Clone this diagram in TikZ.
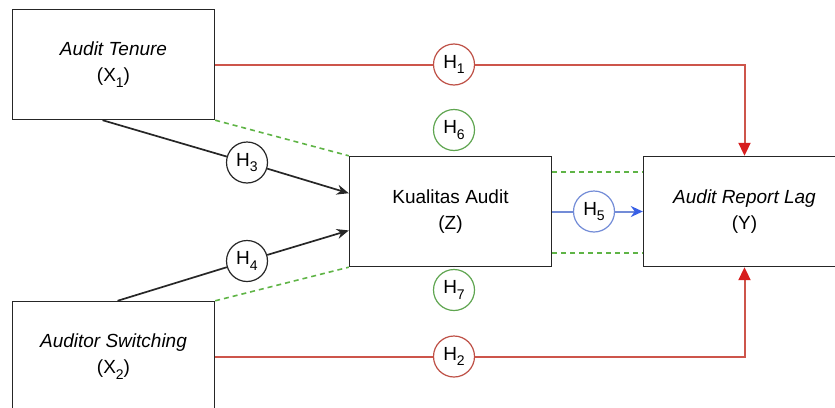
\documentclass[tikz,border=0pt]{standalone}
\usepackage{fontspec}
\setmainfont{Liberation Sans}
\usetikzlibrary{arrows.meta,calc}
\definecolor{redln}{RGB}{205,85,75}
\definecolor{redcirc}{RGB}{190,80,70}
\definecolor{redhd}{RGB}{215,30,30}
\definecolor{grn}{RGB}{95,180,70}
\definecolor{grncirc}{RGB}{95,165,80}
\definecolor{blu}{RGB}{115,140,215}
\definecolor{bluhd}{RGB}{55,95,230}
\newcommand{\sbs}[1]{\raisebox{-0.28em}{\fontsize{14}{14}\selectfont #1}}
\tikzset{
  box/.style={draw=black!85,line width=1.4pt,minimum width=202pt,minimum height=110pt,align=center,inner sep=0pt,
    font=\fontsize{19}{26}\selectfont},
  hyp/.style={circle,draw,line width=1.2pt,fill=white,minimum size=41pt,inner sep=0pt,font=\fontsize{19}{20}\selectfont},
  conn/.style={line width=1.7pt},
  hconn/.style={line width=2pt},
  gdash/.style={draw=grn,line width=1.6pt,dash pattern=on 5pt off 4pt},
}
\begin{document}
\begin{tikzpicture}[x=1pt,y=-1pt]
\useasboundingbox (0,0) rectangle (835,407);
\node[box] (x1) at (113.5,64.5) {\textit{Audit Tenure}\\(X\sbs{1})};
\node[box] (x2) at (113.5,356.5) {\textit{Auditor Switching}\\(X\sbs{2})};
\node[box] (z) at (450.5,211.5) {Kualitas Audit\\(Z)};
\node[box] (y) at (744.5,211.5) {\textit{Audit Report Lag}\\(Y)};

\node[hyp,draw=redcirc] (h1) at (454,64.5) {H\sbs{1}};
\node[hyp,draw=redcirc] (h2) at (454,356.5) {H\sbs{2}};
\node[hyp,draw=black!85] (h3) at (247,162.5) {H\sbs{3}};
\node[hyp,draw=black!85] (h4) at (247,261) {H\sbs{4}};
\node[hyp,draw=blu] (h5) at (594,211.5) {H\sbs{5}};
\node[hyp,draw=grncirc] (h6) at (454,130) {H\sbs{6}};
\node[hyp,draw=grncirc] (h7) at (454,290) {H\sbs{7}};

% red paths
\draw[hconn,redln] (x1.east) -- (h1);
\draw[hconn,redln,-{Triangle[length=13pt,width=12pt,fill=redhd,color=redhd]}] (h1) -| (y.north);
\draw[hconn,redln] (x2.east) -- (h2);
\draw[hconn,redln,-{Triangle[length=13pt,width=12pt,fill=redhd,color=redhd]}] (h2) -| (y.south);

% black paths
\coordinate (x1b) at ($(x1.south west)!0.446!(x1.south east)$);
\coordinate (z3) at ($(z.north west)!0.336!(z.south west)$);
\draw[conn,black!85] (x1b) -- (h3);
\draw[conn,black!85,-{Stealth[length=12pt,width=10pt]}] (h3) -- (z3);
\coordinate (x2t) at ($(x2.north west)!0.52!(x2.north east)$);
\coordinate (z4) at ($(z.north west)!0.67!(z.south west)$);
\draw[conn,black!85] (x2t) -- (h4);
\draw[conn,black!85,-{Stealth[length=12pt,width=10pt]}] (h4) -- (z4);

% blue path
\draw[hconn,blu] (z.east) -- (h5);
\draw[hconn,blu,-{Stealth[length=12pt,width=11pt,fill=bluhd,color=bluhd]}] (h5) -- (y.west);

% green dashed
\draw[gdash] (x1.south east) -- (z.north west);
\draw[gdash] (x2.north east) -- (z.south west);
\draw[gdash] ([yshift=-16pt]z.north east) -- ([yshift=-16pt]y.north west);
\draw[gdash] ([yshift=14pt]z.south east) -- ([yshift=14pt]y.south west);
\end{tikzpicture}
\end{document}
